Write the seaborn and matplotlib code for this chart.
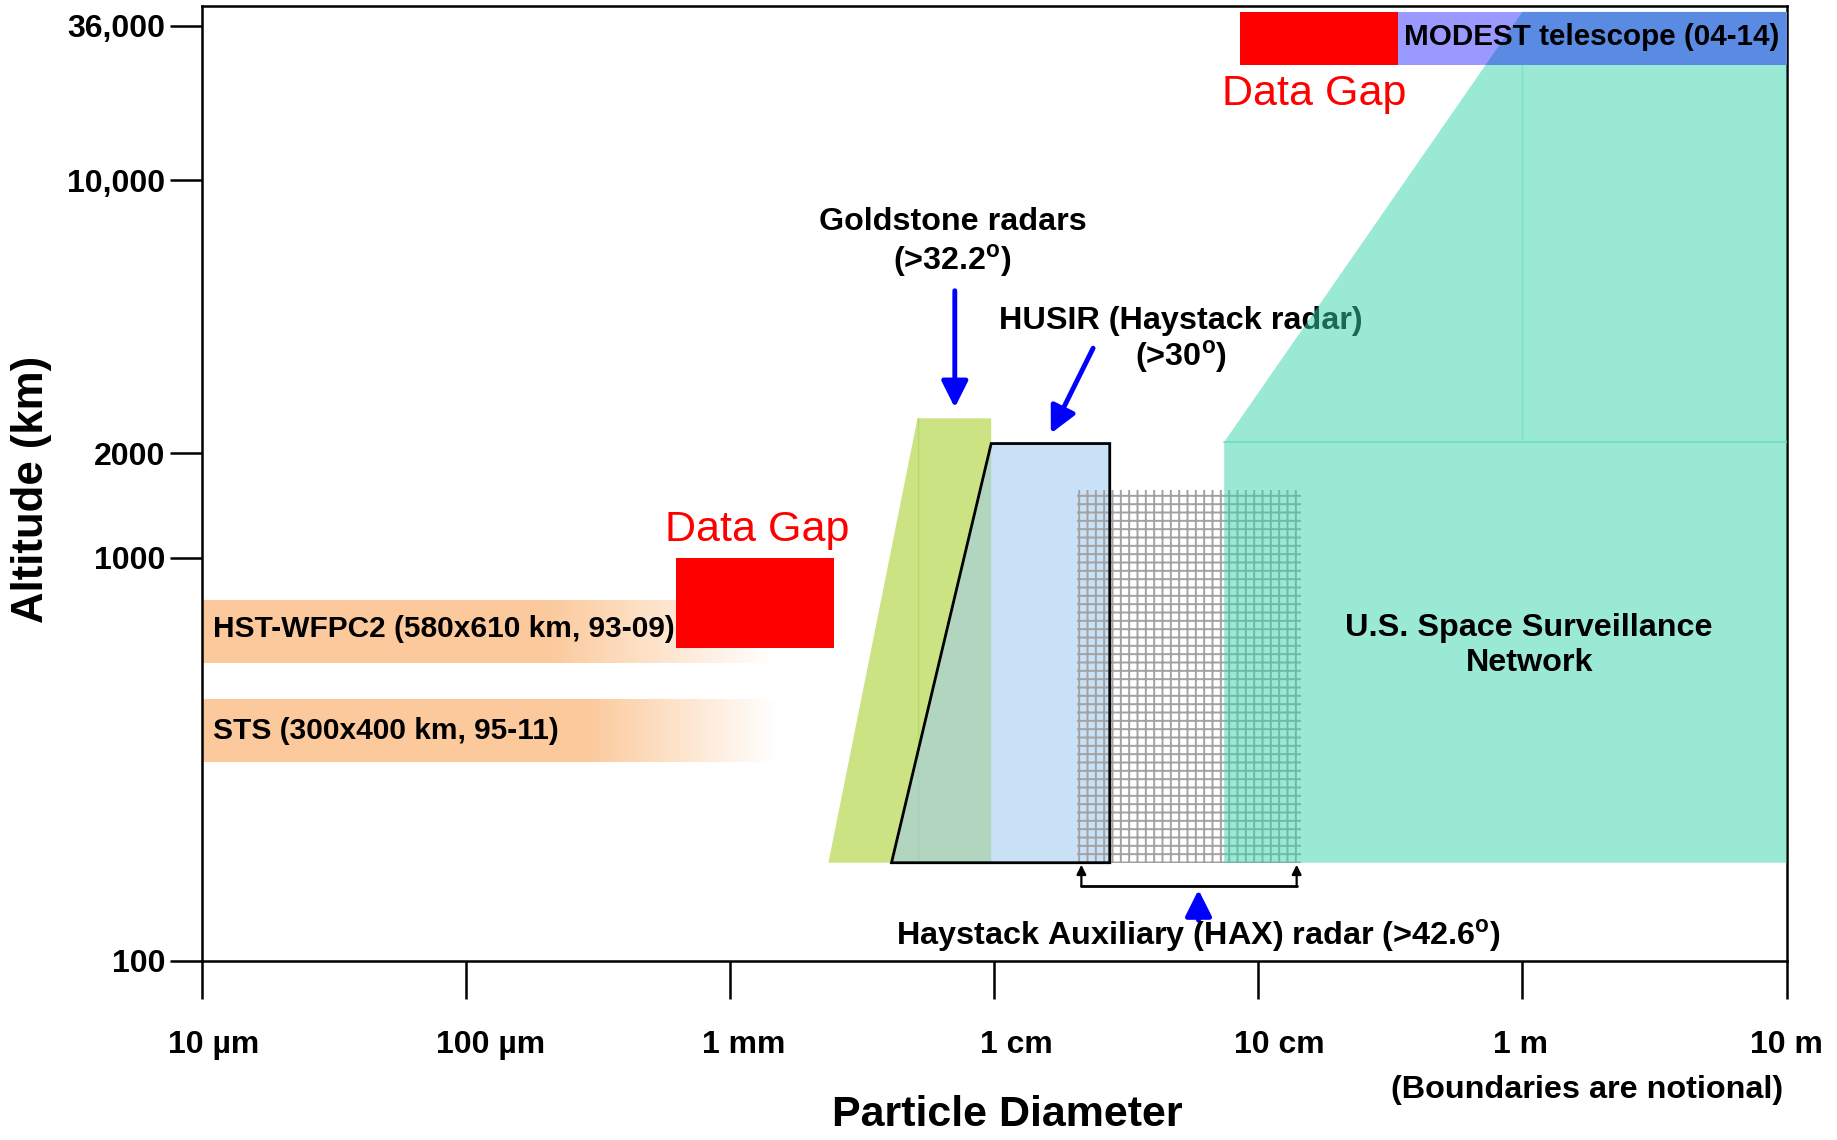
import numpy as np
import matplotlib
matplotlib.use("Agg")
import matplotlib.pyplot as plt
import matplotlib.transforms as mtransforms
import seaborn as sns
from matplotlib.patches import Polygon, Rectangle

# ---------------- data ----------------
size_ticks_m = [1e-5, 1e-4, 1e-3, 1e-2, 1e-1, 1.0, 10.0]
size_tick_labels = ["10 µm", "100 µm", "1 mm", "1 cm", "10 cm", "1 m", "10 m"]

alt_ticks_km = [100, 1000, 2000, 10000, 36000]
alt_tick_labels = ["100", "1000", "2000", "10,000", "36,000"]
# notional (non-uniform) altitude axis: relative position of each tick
alt_scale_km = [10, 100, 1000, 2000, 10000, 36000, 1e6]
alt_scale_pos = [-344, 0, 344, 433, 666, 798, 1140]

# HST-WFPC2 band: x start, solid end, fade end (m); altitude low/high (km)
hst_x = [1e-5, 2.03e-4, 1.46e-3]
hst_alt = [547, 785]
# STS band
sts_x = [1e-5, 2.88e-4, 1.50e-3]
sts_alt = [312, 445]

# Data gaps (x0, x1 in m; alt0, alt1 in km)
gap1_x = [6.25e-4, 2.48e-3]
gap1_alt = [597, 1000]
gap2_x = [0.0849, 0.337]
gap2_alt = [26100, 40460]

# Goldstone radars (polygon)
goldstone_x = [2.36e-3, 5.13e-3, 9.75e-3, 9.75e-3]
goldstone_alt = [175, 2460, 2460, 175]
# HUSIR (Haystack radar)
husir_x = [4.09e-3, 9.75e-3, 0.0274, 0.0274]
husir_alt = [175, 2120, 2120, 175]
# HAX
hax_x = [0.0206, 0.1445]
hax_alt = [175, 1570]
hax_bracket_x = [0.0214, 0.1397]
hax_bracket_alt = [153, 173]
# US SSN
ssn_x = [0.0743, 0.0743, 1.0, 10.0, 10.0]
ssn_alt = [175, 2140, 40460, 40460, 175]
# MODEST telescope
modest_x = [0.337, 10.0]
modest_alt = [26100, 40460]

# ---------------- style ----------------
sns.set_theme(style="white")
plt.rcParams["font.family"] = ["Liberation Sans", "DejaVu Sans"]
plt.rcParams["mathtext.fontset"] = "custom"
plt.rcParams["mathtext.rm"] = "Liberation Sans"
plt.rcParams["mathtext.bf"] = "Liberation Sans:bold"
plt.rcParams["hatch.linewidth"] = 1.4
for k in ["text.color", "axes.labelcolor", "xtick.color", "ytick.color"]:
    plt.rcParams[k] = "black"

fig = plt.figure(figsize=(18.37, 11.4), dpi=100)
ax = fig.add_axes([0.1097, 0.1573, 0.8629, 0.8375])

log_knots = np.log10(alt_scale_km)


def fwd(y):
    y = np.asarray(y, dtype=float)
    return np.interp(np.log10(np.clip(y, 1e-6, None)), log_knots, alt_scale_pos)


def inv(p):
    return 10 ** np.interp(np.asarray(p, dtype=float), alt_scale_pos, log_knots)


ax.set_xscale("log")
ax.set_yscale("function", functions=(fwd, inv))
ax.set_xlim(size_ticks_m[0], size_ticks_m[-1])
ax.set_ylim(100, float(inv(815)))

# ---------------- marks ----------------
PEACH = np.array([251, 201, 155]) / 255.0
WHITE = np.array([1.0, 1.0, 1.0])


def gradient_band(xs, alts, n=120):
    x0, xs_, xe = xs
    la, lb = np.log10(xs_), np.log10(xe)
    edges = 10 ** np.linspace(la, lb, n + 1)
    for i in range(n - 1, -1, -1):
        t = (i + 0.5) / n
        col = PEACH * (1 - t) + WHITE * t
        ax.add_patch(Rectangle((x0, alts[0]), edges[i + 1] - x0, alts[1] - alts[0],
                               facecolor=col, edgecolor="none", lw=0, zorder=2))


gradient_band(hst_x, hst_alt)
gradient_band(sts_x, sts_alt)

# Goldstone
ax.add_patch(Polygon(list(zip(goldstone_x, goldstone_alt)), closed=True,
                     facecolor="#CBE383", edgecolor="none", zorder=3))
ax.plot([goldstone_x[1], goldstone_x[1]], [goldstone_alt[0], goldstone_alt[1]],
        color="#B9D86E", lw=1, zorder=3.1)
# HUSIR
ax.add_patch(Polygon(list(zip(husir_x, husir_alt)), closed=True,
                     facecolor=(157 / 255, 202 / 255, 242 / 255, 0.55), edgecolor="none", zorder=4))
# HAX grid
ax.add_patch(Rectangle((hax_x[0], hax_alt[0]), hax_x[1] - hax_x[0], hax_alt[1] - hax_alt[0],
                       facecolor="none", edgecolor="#A2A2A2", hatch="++", lw=0, zorder=5))
ax.add_patch(Polygon(list(zip(husir_x, husir_alt)), closed=True,
                     facecolor="none", edgecolor="black", lw=2.0, zorder=6))

# Red data gaps
ax.add_patch(Rectangle((gap1_x[0], gap1_alt[0]), gap1_x[1] - gap1_x[0], gap1_alt[1] - gap1_alt[0],
                       facecolor="#FF0000", edgecolor="none", zorder=7))
ax.add_patch(Rectangle((gap2_x[0], gap2_alt[0]), gap2_x[1] - gap2_x[0], gap2_alt[1] - gap2_alt[0],
                       facecolor="#FF0000", edgecolor="none", zorder=7))

DEG = r"$^{\mathbf{o}}$"
# HUSIR label (teal drawn over it)
ax.text(0.0509, 4365, "HUSIR (Haystack radar)", ha="center", va="center",
        fontsize=23.3, fontweight="bold", zorder=8)
ax.text(0.0509, 3525, "(>30" + DEG + ")", ha="center", va="center",
        fontsize=23.3, fontweight="bold", zorder=8)

# SSN teal (semi transparent)
ax.add_patch(Polygon(list(zip(ssn_x, ssn_alt)), closed=True,
                     facecolor=(53 / 255, 213 / 255, 173 / 255, 0.5), edgecolor="none", zorder=9))
ax.plot([ssn_x[0], ssn_x[-1]], [ssn_alt[1], ssn_alt[1]], color="#6FDCBE", lw=1.2, zorder=9.1)
ax.plot([ssn_x[2], ssn_x[2]], [ssn_alt[1], ssn_alt[2]], color="#7FE0C6", lw=1.0, zorder=9.1)

# MODEST
modest_rect = Rectangle((modest_x[0], modest_alt[0]), modest_x[1] - modest_x[0],
                        modest_alt[1] - modest_alt[0], facecolor="#9999FF", edgecolor="none", zorder=10)
ax.add_patch(modest_rect)
overlap = Polygon(list(zip(ssn_x, ssn_alt)), closed=True, facecolor="#5B8AE2",
                  edgecolor="none", zorder=10.5)
ax.add_patch(overlap)
overlap.set_clip_path(modest_rect)

# ---------------- arrows ----------------
BLUE = "#0000FF"
ax.annotate("", xy=(7.1e-3, 2620), xytext=(7.1e-3, 5220),
            arrowprops=dict(arrowstyle="-|>", color=BLUE, lw=3.5, mutation_scale=40,
                            shrinkA=0, shrinkB=0), zorder=12)
ax.annotate("", xy=(0.0164, 2250), xytext=(0.0237, 3720),
            arrowprops=dict(arrowstyle="-|>", color=BLUE, lw=3.5, mutation_scale=40,
                            shrinkA=0, shrinkB=0), zorder=12)
ax.annotate("", xy=(0.0594, 150), xytext=(0.0594, 126),
            arrowprops=dict(arrowstyle="-|>", color=BLUE, lw=3.5, mutation_scale=40,
                            shrinkA=0, shrinkB=0), zorder=12)
# HAX bracket
ax.plot([hax_bracket_x[0], hax_bracket_x[1]], [hax_bracket_alt[0]] * 2, color="black", lw=2, zorder=12)
for bx in hax_bracket_x:
    ax.annotate("", xy=(bx, hax_bracket_alt[1]), xytext=(bx, hax_bracket_alt[0]),
                arrowprops=dict(arrowstyle="-|>", color="black", lw=1.6, mutation_scale=14,
                                shrinkA=0, shrinkB=0), zorder=12)

# ---------------- texts ----------------
ax.text(1.107e-5, 666, "HST-WFPC2 (580x610 km, 93-09)", ha="left", va="center",
        fontsize=21.5, fontweight="bold", zorder=13)
ax.text(1.107e-5, 372, "STS (300x400 km, 95-11)", ha="left", va="center",
        fontsize=21.5, fontweight="bold", zorder=13)
ax.text(6.97e-3, 7850, "Goldstone radars", ha="center", va="center",
        fontsize=23.2, fontweight="bold", zorder=13)
ax.text(6.97e-3, 6210, "(>32.2" + DEG + ")", ha="center", va="center",
        fontsize=23.2, fontweight="bold", zorder=13)
ax.text(1.06, 605, "U.S. Space Surveillance\nNetwork", ha="center", va="center",
        linespacing=1.2, fontsize=23.3, fontweight="bold", zorder=13)
ax.text(0.355, 32700, "MODEST telescope (04-14)", ha="left", va="center",
        fontsize=21.3, fontweight="bold", zorder=13)
ax.text(0.0594, 115, "Haystack Auxiliary (HAX) radar (>42.6" + DEG + ")", ha="center",
        va="center", fontsize=23.3, fontweight="bold", zorder=13)
ax.text(1.265e-3, 1205, "Data Gap", ha="center", va="center", color="#FF0000",
        fontsize=31, zorder=13)
ax.text(0.163, 20500, "Data Gap", ha="center", va="center", color="#FF0000",
        fontsize=31, zorder=13)

# ---------------- axes ----------------
ax.set_xticks(size_ticks_m)
ax.set_xticklabels(size_tick_labels)
ax.xaxis.set_minor_locator(matplotlib.ticker.NullLocator())
ax.set_yticks(alt_ticks_km)
ax.set_yticklabels(alt_tick_labels)
ax.yaxis.set_minor_locator(matplotlib.ticker.NullLocator())
ax.tick_params(axis="x", direction="out", length=27, width=1.8, pad=23,
               labelsize=23, bottom=True)
ax.tick_params(axis="y", direction="out", length=23, width=1.8, pad=3,
               labelsize=23, left=True)
for lab in ax.get_xticklabels() + ax.get_yticklabels():
    lab.set_fontweight("bold")
# small rightward nudge of the size labels, as in the original slide
label_nudge_px = [12, 25, 14, 22, 21, -2, 0]
for lab, dx in zip(ax.get_xticklabels(), label_nudge_px):
    lab.set_transform(lab.get_transform() + mtransforms.ScaledTranslation(dx / 100, 0, fig.dpi_scale_trans))
for sp in ax.spines.values():
    sp.set_visible(True)
    sp.set_color("black")
    sp.set_linewidth(1.8)
ax.grid(False)
ax.set_facecolor("white")

fig.text(0.5485, 0.0216, "Particle Diameter", ha="center", va="center",
         fontsize=31, fontweight="bold")
fig.text(0.0172, 0.5704, "Altitude (km)", ha="center", va="center", rotation=90,
         fontsize=31.5, fontweight="bold")
fig.text(0.864, 0.044, "(Boundaries are notional)", ha="center", va="center",
         fontsize=23.3, fontweight="bold")

fig.savefig("out.png", dpi=100, facecolor="white")
